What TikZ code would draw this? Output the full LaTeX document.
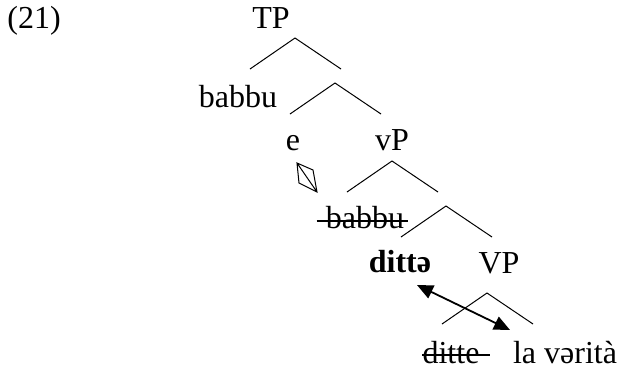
\documentclass[tikz,border=0pt]{standalone}
\usepackage{fontspec}
\setmainfont{Liberation Serif}
\usepackage{tikz}
\usetikzlibrary{arrows.meta}

\tikzset{
  lab/.style={anchor=base, inner sep=0pt, font=\fontsize{16}{19}\selectfont},
  branch/.style={line width=0.5pt},
  strike/.style={line width=0.6pt},
  move/.style={line width=0.9pt, {Triangle[length=8pt,width=7pt]}-{Triangle[length=8pt,width=7pt]}}
}

\begin{document}
\begin{tikzpicture}[x=0.5pt, y=-0.5pt]
  \useasboundingbox (0,0) rectangle (627,371);

  % labels
  \node[lab, anchor=base west] (ex) at (7,28) {(21)};
  \node[lab] (tp) at (271,28) {TP};
  \node[lab] (subj) at (238,107) {babbu};
  \node[lab] (e) at (293,150) {e};
  \node[lab] (vp) at (392,150) {vP};
  \node[lab] (subjcopy) at (365,228) {babbu};
  \node[lab] (verb) at (400,272) {\textbf{dittə}};
  \node[lab] (VP) at (499,273) {VP};
  \node[lab] (verbcopy) at (451,363) {ditte};
  \node[lab] (obj) at (565,363) {la vərità};

  % branches
  \foreach \a/\x/\y in {b1/295/38, b2/335/83, b3/392/161, b4/446/206, b5/487/293} {
    \coordinate (\a) at (\x,\y);
    \draw[branch] (\a) -- +(-45,31) (\a) -- +(46,31);
  }

  % crossed out copies
  \draw[strike] ([xshift=-4.5pt, yshift=3.5pt]subjcopy.base west) -- ([xshift=1.5pt, yshift=3.5pt]subjcopy.base east);
  \draw[strike] ([yshift=4pt]verbcopy.base west) -- ([xshift=5pt, yshift=4pt]verbcopy.base east);

  % agreement mark under e
  \draw[line width=0.5pt] (297,163) -- (313,170) -- (317,192) -- (299,183) -- cycle
    (297,163) -- (317,192);

  % movement
  \coordinate (mv-a) at (417,285);
  \coordinate (mv-b) at (510,330);
  \draw[move] (mv-a) -- (mv-b);
\end{tikzpicture}
\end{document}
